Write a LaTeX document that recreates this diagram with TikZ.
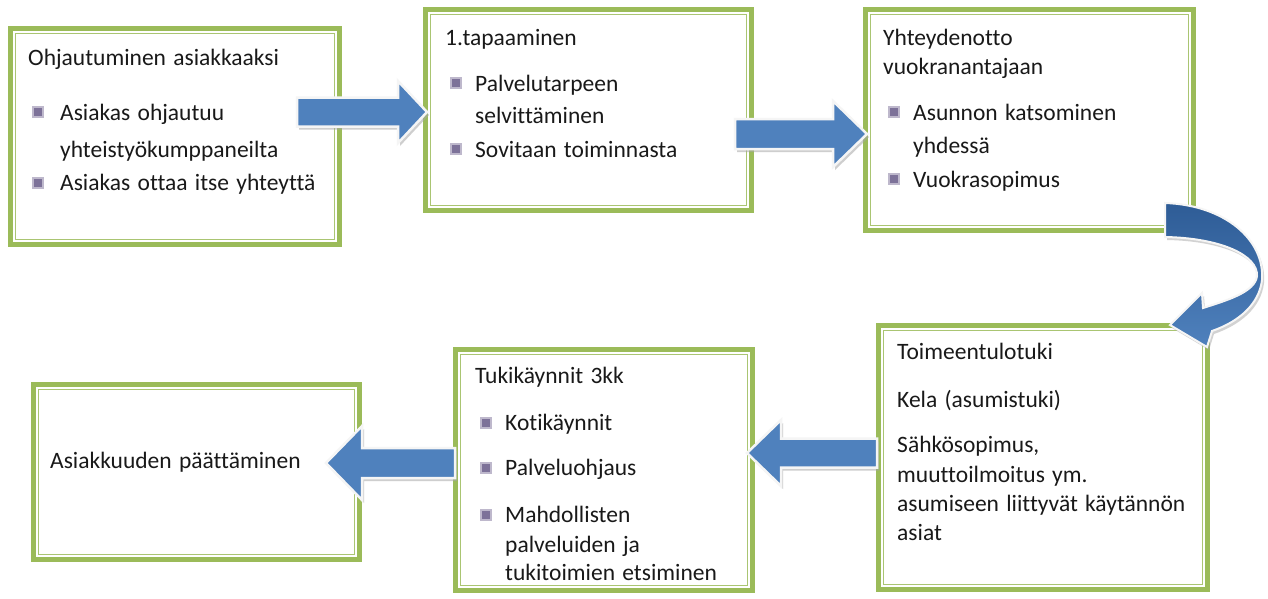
\documentclass[tikz,border=0pt]{standalone}
\usepackage{fontspec}
\setmainfont{Carlito}[Ligatures=NoCommon]
\definecolor{boxgreen}{HTML}{9BBB59}
\definecolor{arrowblue}{HTML}{4F81BD}
\definecolor{arrowdark}{HTML}{2E5C96}
\definecolor{bulletc}{HTML}{7D7299}
\newcommand\widespaces{\spaceskip=0.31em plus 0.1em\relax}
\tikzset{
  gbox/.style={draw=boxgreen, line width=5pt, fill=white, anchor=north west, inner sep=0pt, outer sep=0pt},
  ginner/.style={draw=boxgreen!85, line width=1.4pt},
  txt/.style={anchor=base west, inner sep=0pt, font=\fontsize{23.5}{27}\selectfont\widespaces, text=black!90},
  bul/.style={fill=bulletc, minimum size=10.5pt, inner sep=0pt, draw=bulletc!50, line width=2.2pt},
  arrfill/.style={fill=arrowblue, draw=white!92!gray, line width=2.5pt, line join=miter},
  arrshadow/.style={fill=black!35, opacity=0.55},
}
\newcommand\blockarr[7]{%
  \path[arrshadow, shift={(2,3)}] ({#2},{#5-#6}) -- ({#3},{#5-#6}) -- ({#3},{#5-#7}) -- ({#4},{#5}) -- ({#3},{#5+#7}) -- ({#3},{#5+#6}) -- ({#2},{#5+#6}) -- cycle;
  \path[arrfill] ({#2},{#5-#6}) -- ({#3},{#5-#6}) -- ({#3},{#5-#7}) -- ({#4},{#5}) -- ({#3},{#5+#7}) -- ({#3},{#5+#6}) -- ({#2},{#5+#6}) -- cycle;
  \coordinate (#1) at ({#4},{#5});
}
\newcommand\innerframe[1]{%
  \draw[ginner] ([shift={(5,5)}]#1.north west) rectangle ([shift={(-5,-5)}]#1.south east);
}
\begin{document}
\begin{tikzpicture}[x=1pt,y=-1pt]
\useasboundingbox[fill=white] (0,0) rectangle (1268,598);

% boxes
\node[gbox, minimum width=329pt, minimum height=216pt] (b1) at (10.5,28.5) {};
\node[gbox, minimum width=326pt, minimum height=201pt] (b2) at (425.5,9.5) {};
\node[gbox, minimum width=328pt, minimum height=221pt] (b3) at (865.5,9.5) {};
\node[gbox, minimum width=329pt, minimum height=264pt] (b4) at (878.5,325.5) {};
\node[gbox, minimum width=297pt, minimum height=241pt] (b5) at (455.5,349.5) {};
\node[gbox, minimum width=326pt, minimum height=175pt] (b6) at (33.5,384.5) {};
\innerframe{b1}\innerframe{b2}\innerframe{b3}\innerframe{b4}\innerframe{b5}\innerframe{b6}

% box 1
\node[txt] (t1) at (28,65) {Ohjautuminen asiakkaaksi};
\node[bul] (u11) at (38,112) {};
\node[txt] (t11) at (60,120) {Asiakas ohjautuu};
\node[txt] (t12) at (60,157) {yhteistyökumppaneilta};
\node[bul] (u12) at (38,183) {};
\node[txt] (t13) at (60,190) {Asiakas ottaa itse yhteyttä};

% box 2
\node[txt] (t2) at (445,45) {1.tapaaminen};
\node[bul] (u21) at (456,83) {};
\node[txt] (t21) at (475,91) {Palvelutarpeen};
\node[txt] (t22) at (475,123) {selvittäminen};
\node[bul] (u22) at (456,149) {};
\node[txt] (t23) at (475,157) {Sovitaan toiminnasta};

% box 3
\node[txt] (t3) at (883,45) {Yhteydenotto};
\node[txt] (t3b) at (883,74) {vuokranantajaan};
\node[bul] (u31) at (894,112) {};
\node[txt] (t31) at (913,120) {Asunnon katsominen};
\node[txt] (t32) at (913,153) {yhdessä};
\node[bul] (u32) at (894,179) {};
\node[txt] (t33) at (913,187) {Vuokrasopimus};

% box 4
\node[txt] (t4) at (897,359) {Toimeentulotuki};
\node[txt] (t41) at (897,407) {Kela (asumistuki)};
\node[txt] (t42) at (897,452) {Sähkösopimus,};
\node[txt] (t43) at (897,482) {muuttoilmoitus ym.};
\node[txt] (t44) at (897,511) {asumiseen liittyvät käytännön};
\node[txt] (t45) at (897,540) {asiat};

% box 5
\node[txt] (t5) at (475,383) {Tukikäynnit 3kk};
\node[bul] (u51) at (486,423) {};
\node[txt] (t51) at (505,430) {Kotikäynnit};
\node[bul] (u52) at (486,468) {};
\node[txt] (t52) at (505,475) {Palveluohjaus};
\node[bul] (u53) at (486,515) {};
\node[txt] (t53) at (505,522) {Mahdollisten};
\node[txt] (t54) at (505,552) {palveluiden ja};
\node[txt] (t55) at (505,580) {tukitoimien etsiminen};

% box 6
\node[txt] (t6) at (50,468) {Asiakkuuden päättäminen};

% straight block arrows
\blockarr{a1}{297}{398}{427}{112}{14.5}{31}
\blockarr{a2}{735}{833}{867}{134}{15}{33}
\blockarr{a4}{877}{781}{747}{453}{14.5}{33}
\blockarr{a5}{455}{362}{326}{463}{15}{37}

% curved arrow from box 3 to box 4
\path[fill=black!35, opacity=0.5, shift={(2,3)}]
  (1165,203) .. controls (1225,205) and (1265,240) .. (1262,280)
  .. controls (1259,305) and (1238,322) .. (1212,331)
  -- (1207,347) -- (1170,325) -- (1202,293) -- (1203,308)
  .. controls (1228,300) and (1255,292) .. (1257,276)
  .. controls (1258,255) and (1220,238) .. (1165,237) -- cycle;
\path[top color=arrowdark, bottom color=arrowblue, draw=white!92!gray, line width=2pt, line join=miter]
  (1165,203) .. controls (1225,205) and (1265,240) .. (1262,280)
  .. controls (1259,305) and (1238,322) .. (1212,331)
  -- (1207,347) -- (1170,325) -- (1202,293) -- (1203,308)
  .. controls (1228,300) and (1255,292) .. (1257,276)
  .. controls (1258,255) and (1220,238) .. (1165,237) -- cycle;
\end{tikzpicture}
\end{document}
